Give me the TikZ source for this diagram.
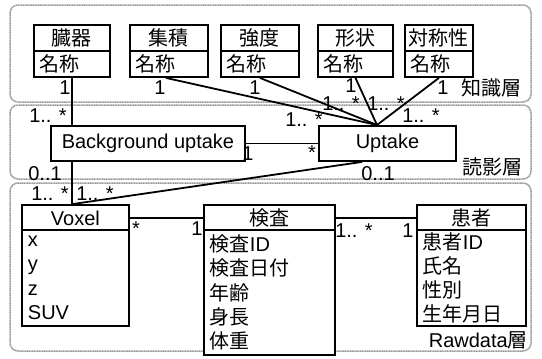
\documentclass[tikz,border=0pt]{standalone}
\usepackage{fontspec}
\setmainfont{Liberation Sans}
\newfontfamily\jp{Noto Sans CJK JP}
\usetikzlibrary{calc}
\begin{document}
\begin{tikzpicture}[x=1pt,y=-1pt,
  every node/.style={font=\fontsize{20}{24}\selectfont, inner sep=0pt},
  layer/.style={draw=black!40, line width=1.5pt, rounded corners=8pt, dash pattern=on 1.2pt off 0.5pt},
  hd/.style={draw, line width=1.9pt, fill=white, anchor=north west, minimum height=26pt},
  bd/.style={draw, line width=1.9pt, fill=white, anchor=north west, align=left, inner xsep=6pt, font=\fontsize{20}{24.3}\selectfont},
  conn/.style={line width=1.8pt},
  lbl/.style={font=\fontsize{20}{22}\selectfont\jp},
  mlt/.style={text height=14pt, text depth=0pt}
]
\useasboundingbox (0,0) rectangle (542,359);
% layers
\draw[layer] (10,5) rectangle (531,102);
\draw[layer] (10,105) rectangle (531,179);
\draw[layer] (10,183) rectangle (531,351);
\node[lbl, anchor=east] (lk) at (522,88) {知識層};
\node[lbl, anchor=east] (ld) at (523,167) {読影層};
\node[anchor=east] (lr) at (528,340) {Rawdata{\jp 層}};

% knowledge classes
\node[hd, minimum width=76pt] (zokih) at (33,24) {\jp 臓器};
\node[bd, text width=64pt, minimum height=26pt] (zoki) at (33,50) {\jp 名称};
\node[hd, minimum width=78pt] (shuh) at (129,24) {\jp 集積};
\node[bd, text width=66pt, minimum height=26pt] (shu) at (129,50) {\jp 名称};
\node[hd, minimum width=78pt] (kyoh) at (220,24) {\jp 強度};
\node[bd, text width=66pt, minimum height=26pt] (kyo) at (220,50) {\jp 名称};
\node[hd, minimum width=75pt] (keih) at (317,24) {\jp 形状};
\node[bd, text width=63pt, minimum height=26pt] (kei) at (317,50) {\jp 名称};
\node[hd, minimum width=68pt] (taih) at (404,24) {\jp 対称性};
\node[bd, text width=56pt, minimum height=26pt] (tai) at (404,50) {\jp 名称};

% reading layer
\node[draw, line width=1.9pt, fill=white, anchor=north west, minimum width=194pt, minimum height=35pt] (bg) at (50,125) {Background uptake};
\node[draw, line width=1.9pt, fill=white, anchor=north west, minimum width=137pt, minimum height=35pt] (upt) at (318,125) {Uptake};

% raw data classes
\node[hd, minimum width=107pt] (voxh) at (21,204) {Voxel};
\node[bd, text width=95pt, minimum height=96pt] (vox) at (21,229) {x\\y\\z\\SUV};
\node[hd, minimum width=131pt] (kenh) at (203,204) {\jp 検査};
\node[bd, text width=119pt, minimum height=125pt] (ken) at (203,229) {{\jp 検査}ID\\{\jp 検査日付}\\{\jp 年齢}\\{\jp 身長}\\{\jp 体重}};
\node[hd, minimum width=109pt] (kanh) at (416,204) {\jp 患者};
\node[bd, text width=97pt, minimum height=96pt] (kan) at (416,229) {{\jp 患者}ID\\{\jp 氏名}\\{\jp 性別}\\{\jp 生年月日}};

% connection points
\coordinate (uptop) at ($(upt.north west)+(59,0)$);
\coordinate (upbot) at ($(upt.south west)+(44,0)$);
\coordinate (voxtop) at ($(voxh.north west)+(52,0)$);

% connectors
\draw[conn] (zoki.south) -- (zoki.south |- bg.north);
\draw[conn] (zoki.south |- bg.south) -- (zoki.south |- voxh.north);
\draw[conn] ($(shu.south)+(-3,0)$) -- (uptop);
\draw[conn] (kyo.south) -- (uptop);
\draw[conn] (kei.south) -- (uptop);
\draw[conn] (tai.south) -- (uptop);
\draw[conn] (bg.east) -- (upt.west);
\draw[conn] (upbot) -- (voxtop);
\draw[conn] (voxh.east) -- (kenh.west);
\draw[conn] (kenh.east) -- (kanh.west);

% multiplicities
\node[mlt] (m1) at (65,87) {1};
\node[mlt] (m2) at (160,87) {1};
\node[mlt] (m3) at (255,87) {1};
\node[mlt] (m4) at (351,85) {1};
\node[mlt] (m5) at (443,87) {1};
\node[mlt] (m6) at (304,119) {1.. *};
\node[mlt] (m7) at (341,103) {1.. *};
\node[mlt] (m8) at (386,103) {1.. *};
\node[mlt] (m9) at (421,115) {1.. *};
\node[mlt] (m10) at (48,115) {1.. *};
\node[mlt] (m11) at (248,153) {1};
\node[mlt] (m12) at (312,152) {*};
\node[mlt] (m13) at (45,173) {0..1};
\node[mlt] (m14) at (378,173) {0..1};
\node[mlt] (m15) at (50,193) {1.. *};
\node[mlt] (m16) at (95,193) {1.. *};
\node[mlt] (m17) at (136,228) {*};
\node[mlt] (m18) at (197,228) {1};
\node[mlt] (m19) at (354,230) {1.. *};
\node[mlt] (m20) at (408,230) {1};
\end{tikzpicture}
\end{document}
